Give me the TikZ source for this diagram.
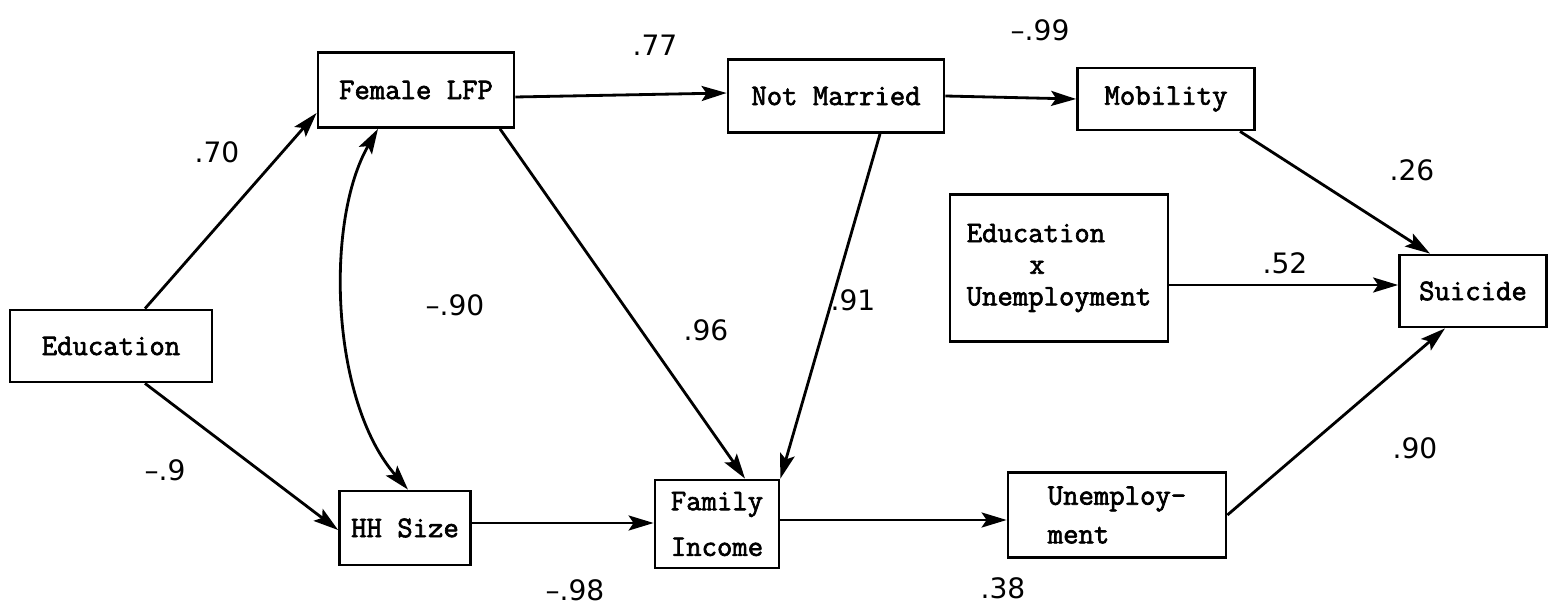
\documentclass[tikz,border=0pt]{standalone}
\usepackage{fontspec}
\setmonofont{Latin Modern Mono}[AutoFakeBold=2.2]
\newfontfamily\numfont{DejaVu Sans}
\usetikzlibrary{arrows.meta,calc}
\begin{document}
\begin{tikzpicture}[x=0.02cm,y=-0.02cm,
  box/.style={draw, line width=1.6pt, font=\ttfamily\bfseries\fontsize{17}{18}\selectfont, inner sep=2pt},
  arr/.style={line width=1.6pt, -{Stealth[length=0.5cm,width=0.3cm,inset=0.1cm]}},
  darr/.style={line width=1.6pt, {Stealth[length=0.5cm,width=0.3cm,inset=0.1cm]}-{Stealth[length=0.5cm,width=0.3cm,inset=0.1cm]}},
  lab/.style={font=\numfont\fontsize{16}{18}\selectfont, inner sep=0pt}]
\useasboundingbox (0,0) rectangle (1556,611);
\fill[white] (0,0) rectangle (1556,611);

% boxes
\node[box, minimum width=4.04cm, minimum height=1.44cm] (edu) at (111,346) {Education};
\node[box, minimum width=3.92cm, minimum height=1.5cm] (flfp) at (416,90) {Female LFP};
\node[box, minimum width=4.32cm, minimum height=1.46cm] (nm) at (836,96) {Not Married};
\node[box, minimum width=3.54cm, minimum height=1.24cm] (mob) at (1166,99) {Mobility};
\node[box, minimum width=4.36cm, minimum height=2.94cm, align=left] (exu) at (1059,268) {Education\\\hspace*{2.1em}x\\Unemployment};
\node[box, minimum width=2.94cm, minimum height=1.44cm] (sui) at (1473,291) {Suicide};
\node[box, minimum width=2.62cm, minimum height=1.48cm] (hh) at (405,528) {HH Size};
\node[box, minimum width=2.48cm, minimum height=1.76cm, align=center] (fi) at (717,524) {Family\\[8pt]Income};
\node[box, minimum width=4.36cm, minimum height=1.7cm, align=left] (un) at (1117,515) {Unemploy-\\[4pt]ment};

% connectors
\draw[arr] ($(edu.north)+(34,0)$) -- ($(flfp.west)+(0,23)$);
\draw[arr] ($(edu.south)+(34,0)$) -- ($(hh.west)+(0,2)$);
\draw[arr] ($(flfp.east)+(0,7)$) -- ($(nm.west)+(0,-3)$);
\draw[arr] (nm.east) -- (mob.west);
\draw[arr] ($(flfp.south)+(84,0)$) -- ($(fi.north)+(28,0)$);
\draw[arr] ($(nm.south)+(44,0)$) -- (fi.north east);
\draw[arr] ($(mob.south)+(74,0)$) -- ($(sui.north)+(-43,0)$);
\draw[arr] ($(exu.east)+(0,17)$) -- ($(sui.west)+(0,-6)$);
\draw[arr] (un.east) -- ($(sui.south)+(-28,0)$);
\draw[arr] ($(hh.east)+(0,-5)$) -- ($(fi.west)+(0,-1)$);
\draw[arr] ($(fi.east)+(0,-4)$) -- ($(un.west)+(0,5)$);
\draw[darr] ($(flfp.south)+(-38,0)$) .. controls (325,220) and (330,400) .. ($(hh.north)+(3,0)$);

% labels
\node[lab] (l70) at (217,152) {.70};
\node[lab] (l93) at (165,470) {–.9};
\node[lab] (l77) at (655,45) {.77};
\node[lab] (l99) at (1040,30) {–.99};
\node[lab] (l96) at (706,330) {.96};
\node[lab] (l91) at (853,300) {.91};
\node[lab] (l90a) at (455,305) {–.90};
\node[lab] (l26) at (1412,170) {.26};
\node[lab] (l52) at (1285,263) {.52};
\node[lab] (l90b) at (1415,448) {.90};
\node[lab] (l98) at (575,590) {–.98};
\node[lab] (l38) at (1003,588) {.38};
\end{tikzpicture}
\end{document}
